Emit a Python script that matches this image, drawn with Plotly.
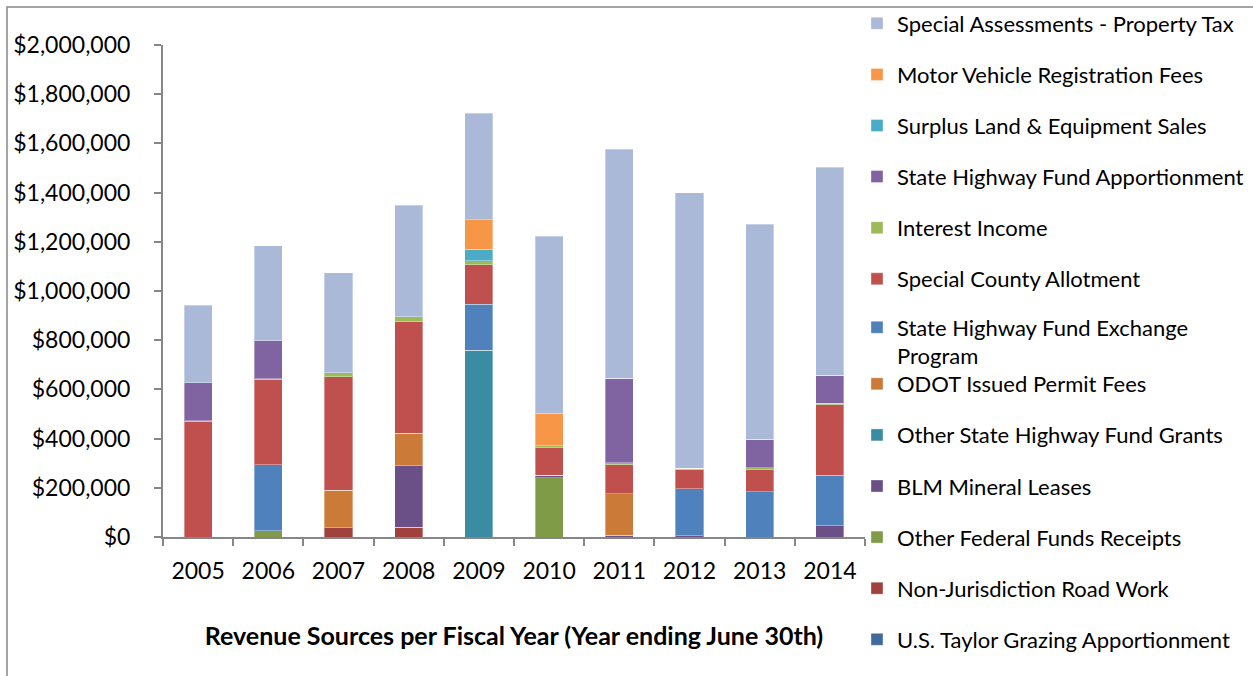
import plotly.graph_objects as go

# Fiscal years (year ending June 30th)
years = ["2005", "2006", "2007", "2008", "2009", "2010", "2011", "2012", "2013", "2014"]

# Revenue by source, in dollars
us_taylor_grazing = [0, 0, 0, 0, 0, 0, 0, 0, 0, 0]
non_jurisdiction_road_work = [0, 0, 38000, 39000, 0, 0, 0, 0, 0, 0]
other_federal_funds = [0, 25000, 0, 0, 0, 241000, 0, 0, 0, 0]
blm_mineral_leases = [0, 0, 0, 250000, 0, 10000, 8000, 6000, 0, 46000]
other_state_hwy_grants = [0, 0, 0, 0, 760000, 0, 0, 0, 0, 0]
odot_permit_fees = [0, 0, 152000, 132000, 0, 0, 167000, 0, 0, 0]
state_hwy_exchange = [0, 268000, 0, 0, 186000, 0, 0, 190000, 183000, 205000]
special_county_allotment = [468000, 346000, 462000, 454000, 161000, 114000, 119000, 78000, 93000, 287000]
interest_income = [4000, 4000, 16000, 21000, 15000, 5000, 8000, 5000, 6000, 5000]
state_hwy_apportionment = [155000, 155000, 0, 0, 0, 0, 344000, 0, 115000, 114000]
surplus_sales = [0, 0, 0, 0, 48000, 0, 0, 0, 0, 0]
motor_vehicle_fees = [0, 0, 0, 0, 119000, 134000, 0, 0, 0, 0]
property_tax = [315000, 386000, 406000, 452000, 433000, 719000, 931000, 1121000, 875000, 846000]

FONT = "Lato"

# (name, values, colour, legend box) in stacking order, bottom first
series = [
    ("U.S. Taylor Grazing Apportionment", us_taylor_grazing, "#416A9C", "legend3"),
    ("Non-Jurisdiction Road Work", non_jurisdiction_road_work, "#A0413E", "legend3"),
    ("Other Federal Funds Receipts", other_federal_funds, "#7F9B48", "legend3"),
    ("BLM Mineral Leases", blm_mineral_leases, "#6A5087", "legend3"),
    ("Other State Highway Fund Grants", other_state_hwy_grants, "#3B8BA3", "legend3"),
    ("ODOT Issued Permit Fees", odot_permit_fees, "#CB7A37", "legend3"),
    ("State Highway Fund Exchange<br>Program", state_hwy_exchange, "#4F81BD", "legend2"),
    ("Special County Allotment", special_county_allotment, "#C0504D", "legend"),
    ("Interest Income", interest_income, "#9BBB59", "legend"),
    ("State Highway Fund Apportionment", state_hwy_apportionment, "#8064A2", "legend"),
    ("Surplus Land & Equipment Sales", surplus_sales, "#4BACC6", "legend"),
    ("Motor Vehicle Registration Fees", motor_vehicle_fees, "#F79646", "legend"),
    ("Special Assessments - Property Tax", property_tax, "#AAB9D7", "legend"),
]

fig = go.Figure()
n = len(series)
for i, (name, vals, color, leg) in enumerate(series):
    fig.add_trace(go.Bar(
        x=years, y=vals, name=name,
        marker=dict(color=color, line=dict(color="rgba(255,255,255,0.35)", width=1)),
        legend=leg, legendgroup=f"g{i}", legendrank=n - i,
    ))

W, H = 1253, 676
L, R, T, B = 163, 865, 45, 537

def px_x(p):
    return (p - L) / (R - L)

def px_y(p):
    return (B - p) / (B - T)

axis_grey = "#868686"
legend_common = dict(
    font=dict(family=FONT, size=22, color="#000000"),
    traceorder="grouped",
    tracegroupgap=19.5,
    valign="top",
    bgcolor="rgba(0,0,0,0)",
    xanchor="left", yanchor="top",
    itemclick=False,
)

fig.update_layout(
    width=W, height=H,
    margin=dict(l=L, r=W - R, t=T, b=H - B, autoexpand=False),
    barmode="stack",
    bargap=0.6,
    plot_bgcolor="white",
    paper_bgcolor="white",
    font=dict(family=FONT, color="#000000"),
    xaxis=dict(
        type="category",
        showline=True, linecolor=axis_grey, linewidth=2,
        ticks="outside", tickson="boundaries", ticklen=7, tickcolor=axis_grey, tickwidth=2,
        tickfont=dict(family=FONT, size=23, color="#000000"),
        ticklabelstandoff=12,
        title=dict(text="<b>Revenue Sources per Fiscal Year (Year ending June 30th)</b>",
                   font=dict(family=FONT, size=25, color="#000000"), standoff=45),
        showgrid=False, zeroline=False,
    ),
    yaxis=dict(
        range=[0, 2000000],
        tickvals=list(range(0, 2000001, 200000)),
        tickformat="$,.0f",
        showline=True, linecolor=axis_grey, linewidth=2,
        ticks="outside", ticklen=7, tickcolor=axis_grey, tickwidth=2,
        tickfont=dict(family=FONT, size=23, color="#000000"),
        ticklabelstandoff=19,
        showgrid=False, zeroline=False,
    ),
    legend=dict(x=px_x(857), y=px_y(2.5), **legend_common),
    legend2=dict(x=px_x(857), y=px_y(306.5), **legend_common),
    legend3=dict(x=px_x(857), y=px_y(363), **legend_common),
    showlegend=True,
    shapes=[dict(
        type="rect", xref="paper", yref="paper",
        x0=px_x(7), x1=px_x(1300), y0=px_y(720), y1=px_y(7),
        line=dict(color=axis_grey, width=1.5), fillcolor="rgba(0,0,0,0)", layer="below",
    )],
)

fig.write_html("out.html")
